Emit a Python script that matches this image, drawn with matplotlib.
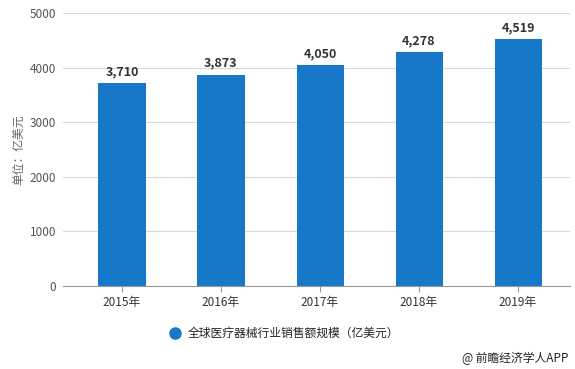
import matplotlib
matplotlib.use("Agg")
import matplotlib.pyplot as plt

plt.rcParams['font.family'] = ['Noto Sans CJK SC', 'DejaVu Sans']

years = ["2015年", "2016年", "2017年", "2018年", "2019年"]
sales = [3710, 3873, 4050, 4278, 4519]
yticks = [0, 1000, 2000, 3000, 4000, 5000]
series_name = "全球医疗器械行业销售额规模（亿美元）"

bar_color = "#1777c8"

fig = plt.figure(figsize=(5.75, 3.69), dpi=100)
ax = fig.add_axes([63 / 575, 83 / 369, 507 / 575, 273 / 369])

x = range(len(years))
ax.bar(x, sales, width=0.475, color=bar_color, zorder=3)
for i, v in zip(x, sales):
    ax.text(i, v + 90, f"{v:,}", ha="center", va="bottom", fontsize=9,
            fontweight="bold", color="#333333")

ax.set_xlim(-0.596, len(years) - 0.475)
ax.set_ylim(0, 5000)
ax.set_yticks(yticks)
ax.set_yticklabels([str(t) for t in yticks], fontsize=8.5, color="#555555")
ax.set_xticks(list(x))
ax.set_xticklabels(years, fontsize=8.5, color="#333333")
ax.yaxis.grid(True, color="#d9d9d9", linewidth=0.8, zorder=0)
ax.tick_params(axis="y", length=0, pad=5)
ax.tick_params(axis="x", length=4, color="#999999", pad=3)
for s in ["top", "right", "left"]:
    ax.spines[s].set_visible(False)
ax.spines["bottom"].set_color("#999999")
ax.set_ylabel("单位：亿美元", fontsize=8.5, color="#666666")
ax.yaxis.set_label_coords(-38 / 507, 0.5)

# legend
fig.lines.append(plt.Line2D([175 / 575], [1 - 333 / 369], marker="o", markersize=8,
                            color=bar_color, linestyle="none", transform=fig.transFigure))
fig.text(188 / 575, 1 - 333 / 369, series_name, fontsize=8.5, color="#222222",
         va="center", ha="left")

fig.text(568 / 575, 1 - 358 / 369, "@ 前瞻经济学人APP", fontsize=8.5, color="#222222",
         va="center", ha="right")

fig.savefig("out.png", dpi=100)
